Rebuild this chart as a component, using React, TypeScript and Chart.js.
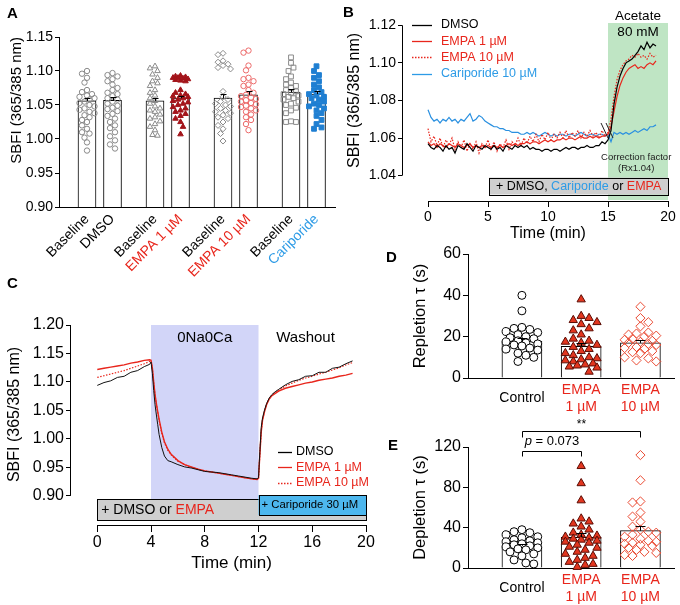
import React, { useEffect, useRef } from "react";
import { Chart, registerables } from "chart.js";

Chart.register(...registerables);

const FAMILY = "'Liberation Sans', Arial, Helvetica, sans-serif";
Chart.defaults.font.family = FAMILY;
Chart.defaults.color = "#000";

// ---------- colours ----------
const RED = "#e8261c";
const DARK_RED = "#a3141a";
const LIGHT_RED = "#ec6a6a";
const BLUE_TEXT = "#2d9be6";
const BLUE_LINE = "#2a90e0";
const BLUE_FILL = "#1f7fd2";
const GREY_PT = "#8a8a8a";
const GREEN_SHADE = "#bfe5c4";
const LAVENDER = "#d2d5f8";
const BOX_GREY = "#cfcfcf";
const CARI_BOX = "#4db7ee";
const TRI_RED = "#e2361f";
const TRI_EDGE = "#5a0c04";
const DIA_RED = "#ea4a32";

// ================= Panel A data =================
const A_LABELS = ["Baseline", "DMSO", "Baseline", "EMPA 1 µM", "Baseline", "EMPA 10 µM", "Baseline", "Cariporide"];
const A_LABEL_COLORS = ["#000", "#000", "#000", RED, "#000", RED, "#000", BLUE_TEXT];
const A_Y_TICKS = [0.9, 0.95, 1.0, 1.05, 1.1, 1.15];
const A_MEANS = [1.056, 1.057, 1.056, 1.060, 1.060, 1.065, 1.069, 1.066];
const A_SEMS = [0.004, 0.005, 0.004, 0.003, 0.006, 0.005, 0.004, 0.004];
const A_BASE_DMSO = [1.100, 1.096, 1.090, 1.083, 1.072, 1.069, 1.066, 1.064, 1.062, 1.060, 1.058, 1.055, 1.053, 1.050, 1.048, 1.045, 1.043, 1.040, 1.038, 1.035, 1.032, 1.028, 1.025, 1.020, 1.015, 1.010, 1.008, 1.002, 0.995, 0.983];
const A_DMSO = [1.097, 1.094, 1.092, 1.088, 1.085, 1.080, 1.075, 1.072, 1.068, 1.066, 1.063, 1.060, 1.058, 1.055, 1.052, 1.049, 1.046, 1.044, 1.041, 1.037, 1.034, 1.030, 1.025, 1.020, 1.016, 1.010, 1.004, 0.998, 0.992, 0.986];
const A_BASE_E1 = [1.107, 1.104, 1.100, 1.095, 1.090, 1.085, 1.082, 1.078, 1.072, 1.068, 1.064, 1.060, 1.056, 1.052, 1.048, 1.045, 1.042, 1.040, 1.036, 1.032, 1.030, 1.026, 1.022, 1.018, 1.013, 1.006, 1.005];
const A_EMPA1 = [1.093, 1.092, 1.091, 1.090, 1.090, 1.089, 1.088, 1.087, 1.086, 1.085, 1.072, 1.068, 1.066, 1.064, 1.063, 1.062, 1.060, 1.058, 1.056, 1.054, 1.052, 1.050, 1.047, 1.045, 1.042, 1.040, 1.037, 1.034, 1.030, 1.025, 1.018, 1.007];
const A_BASE_E10 = [1.126, 1.124, 1.115, 1.113, 1.110, 1.108, 1.105, 1.103, 1.070, 1.062, 1.058, 1.055, 1.052, 1.050, 1.048, 1.045, 1.042, 1.040, 1.038, 1.035, 1.032, 1.030, 1.025, 1.020, 1.015, 1.008, 0.997];
const A_EMPA10 = [1.130, 1.127, 1.108, 1.101, 1.090, 1.088, 1.085, 1.080, 1.078, 1.072, 1.068, 1.065, 1.063, 1.061, 1.059, 1.057, 1.055, 1.053, 1.051, 1.049, 1.047, 1.045, 1.042, 1.040, 1.036, 1.032, 1.028, 1.022, 1.013];
const A_BASE_CARI = [1.120, 1.112, 1.105, 1.100, 1.092, 1.088, 1.083, 1.080, 1.078, 1.075, 1.072, 1.070, 1.068, 1.066, 1.064, 1.062, 1.060, 1.058, 1.055, 1.052, 1.050, 1.046, 1.042, 1.038, 1.026, 1.025, 1.025];
const A_CARI = [1.107, 1.100, 1.094, 1.090, 1.085, 1.080, 1.076, 1.072, 1.069, 1.066, 1.064, 1.062, 1.060, 1.058, 1.055, 1.052, 1.050, 1.048, 1.045, 1.042, 1.038, 1.034, 1.028, 1.022, 1.017, 1.015];
const A_GROUPS = [A_BASE_DMSO, A_DMSO, A_BASE_E1, A_EMPA1, A_BASE_E10, A_EMPA10, A_BASE_CARI, A_CARI];

// ================= Panel B data =================
const B_T_START = 0;
const B_T_STEP = 0.25;
const B_X_TICKS = [0, 5, 10, 15, 20];
const B_Y_TICKS = [1.04, 1.06, 1.08, 1.10, 1.12];
const B_ACETATE = [15, 20];
const B_DMSO = [
  1.057, 1.055, 1.054, 1.056, 1.055, 1.053, 1.056, 1.054, 1.055, 1.052,
  1.056, 1.055, 1.054, 1.057, 1.055, 1.053, 1.056, 1.055, 1.054, 1.056,
  1.055, 1.054, 1.056, 1.054, 1.055, 1.053, 1.056, 1.055, 1.054, 1.056,
  1.055, 1.056, 1.055, 1.056, 1.054, 1.055, 1.054, 1.054, 1.053, 1.054,
  1.054, 1.053, 1.054, 1.054, 1.053, 1.054, 1.055, 1.054, 1.055, 1.055,
  1.054, 1.055, 1.055, 1.056, 1.055, 1.055, 1.056, 1.056, 1.058, 1.057,
  1.059,
  1.064, 1.078, 1.087, 1.093, 1.097, 1.100, 1.101, 1.102, 1.104, 1.106, 1.109, 1.107, 1.111, 1.108, 1.110, 1.109,
];
const B_EMPA1 = [
  1.058, 1.056, 1.057, 1.055, 1.057, 1.056, 1.055, 1.057, 1.056, 1.055,
  1.057, 1.056, 1.055, 1.056, 1.057, 1.055, 1.056, 1.055, 1.056, 1.055,
  1.056, 1.055, 1.056, 1.055, 1.056, 1.055, 1.056, 1.057, 1.056, 1.057,
  1.056, 1.057, 1.057, 1.058, 1.057, 1.058, 1.058, 1.057, 1.058, 1.059,
  1.058, 1.059, 1.058, 1.059, 1.059, 1.060, 1.059, 1.060, 1.060, 1.059,
  1.060, 1.061, 1.060, 1.060, 1.061, 1.060, 1.061, 1.060, 1.061, 1.061,
  1.062,
  1.066, 1.074, 1.082, 1.088, 1.092, 1.095, 1.097, 1.098, 1.099, 1.097, 1.098, 1.097, 1.099, 1.100, 1.099, 1.101,
];
const B_EMPA10 = [
  1.065, 1.058, 1.061, 1.056, 1.060, 1.055, 1.059, 1.056, 1.060, 1.054,
  1.058, 1.055, 1.059, 1.053, 1.057, 1.054, 1.058, 1.052, 1.057, 1.055,
  1.059, 1.054, 1.058, 1.053, 1.057, 1.055, 1.059, 1.054, 1.058, 1.056,
  1.060, 1.056, 1.060, 1.057, 1.061, 1.058, 1.062, 1.058, 1.062, 1.059,
  1.063, 1.059, 1.062, 1.060, 1.063, 1.060, 1.064, 1.060, 1.063, 1.061,
  1.064, 1.060, 1.063, 1.061, 1.064, 1.061, 1.063, 1.060, 1.064, 1.061,
  1.063,
  1.070, 1.082, 1.091, 1.096, 1.099, 1.101, 1.102, 1.104, 1.103, 1.105, 1.103, 1.104, 1.102, 1.105, 1.103, 1.104,
];
const B_CARI = [
  1.075, 1.071, 1.069, 1.070, 1.068, 1.070, 1.069, 1.071, 1.069, 1.070,
  1.068, 1.070, 1.069, 1.071, 1.073, 1.069, 1.070, 1.072, 1.071, 1.069,
  1.068, 1.067, 1.066, 1.066, 1.065, 1.065, 1.064, 1.064, 1.063, 1.063,
  1.063, 1.062, 1.062, 1.063, 1.062, 1.063, 1.062, 1.061, 1.062, 1.063,
  1.062, 1.061, 1.062, 1.061, 1.062, 1.062, 1.061, 1.062, 1.062, 1.061,
  1.062, 1.063, 1.062, 1.061, 1.062, 1.062, 1.061, 1.062, 1.062, 1.061,
  1.062,
  1.058, 1.063, 1.062, 1.063, 1.062, 1.063, 1.062, 1.063, 1.064, 1.063, 1.064, 1.065, 1.064, 1.066, 1.066, 1.067,
];

// ================= Panel C data =================
const C_X_TICKS = [0, 4, 8, 12, 16, 20];
const C_Y_TICKS = [0.9, 0.95, 1.0, 1.05, 1.1, 1.15, 1.2];
const C_ZERO_NA = [4, 12];
const C_CARI_START = 12;
const C_TIME = [
  0, 0.5, 1, 1.5, 2, 2.5, 3, 3.5, 3.9, 4.0,
  4.1, 4.2, 4.3, 4.4, 4.5, 4.6, 4.8, 5.0, 5.25, 5.5,
  6, 6.5, 7, 7.5, 8, 8.5, 9, 9.5, 10, 10.5,
  11, 11.5, 11.9, 12.0, 12.1, 12.2, 12.3, 12.45, 12.6, 12.8,
  13, 13.25, 13.5, 14, 14.5, 15, 15.5, 16, 16.5, 17,
  17.5, 18, 18.5, 19,
];
const C_DMSO = [
  1.094, 1.099, 1.102, 1.108, 1.110, 1.117, 1.120, 1.127, 1.131, 1.135,
  1.115, 1.085, 1.060, 1.042, 1.025, 1.008, 0.985, 0.970, 0.962, 0.960,
  0.955, 0.951, 0.949, 0.946, 0.943, 0.942, 0.941, 0.939, 0.937, 0.935,
  0.933, 0.931, 0.930, 0.932, 0.978, 1.020, 1.037, 1.051, 1.062, 1.072,
  1.078, 1.083, 1.087, 1.095, 1.101, 1.104, 1.110, 1.111, 1.117, 1.117,
  1.124, 1.126, 1.132, 1.137,
];
const C_EMPA1 = [
  1.122, 1.124, 1.126, 1.128, 1.130, 1.133, 1.135, 1.138, 1.139, 1.138,
  1.125, 1.100, 1.078, 1.062, 1.048, 1.035, 1.012, 0.995, 0.982, 0.973,
  0.962, 0.955, 0.951, 0.947, 0.944, 0.942, 0.940, 0.938, 0.936, 0.934,
  0.932, 0.930, 0.929, 0.931, 0.972, 1.012, 1.033, 1.048, 1.060, 1.070,
  1.076, 1.080, 1.084, 1.089, 1.092, 1.095, 1.098, 1.100, 1.103, 1.105,
  1.107, 1.110, 1.112, 1.115,
];
const C_EMPA10 = [
  1.108, 1.111, 1.114, 1.117, 1.120, 1.124, 1.128, 1.132, 1.136, 1.137,
  1.123, 1.098, 1.076, 1.060, 1.046, 1.033, 1.010, 0.993, 0.980, 0.972,
  0.961, 0.955, 0.950, 0.947, 0.944, 0.942, 0.940, 0.938, 0.936, 0.934,
  0.932, 0.930, 0.929, 0.931, 0.973, 1.013, 1.034, 1.049, 1.061, 1.071,
  1.077, 1.082, 1.086, 1.093, 1.098, 1.103, 1.107, 1.110, 1.114, 1.117,
  1.121, 1.125, 1.130, 1.134,
];

// ================= Panels D / E data =================
const TAU_LABELS = [["Control"], ["EMPA", "1 µM"], ["EMPA", "10 µM"]];
const TAU_LABEL_COLORS = ["#000", RED, RED];
const D_Y_TICKS = [0, 20, 40, 60];
const D_CONTROL = [40, 32.5, 24.5, 24, 23.5, 22.5, 22, 21, 20, 19.5, 19, 18, 17.5, 17, 16.5, 16, 15.5, 14.5, 14, 13.5, 12, 11, 10, 8];
const D_EMPA1 = [38, 30, 29, 28, 27, 26, 24, 23, 21, 19, 18, 17.5, 17, 16, 15, 14, 13, 12, 11, 10, 9.5, 9, 8.5, 8, 7, 6.5, 6, 5.5, 5, 3];
const D_EMPA10 = [34.5, 29, 27, 25, 22, 21.5, 21, 20.5, 20, 19, 18.5, 18, 17.5, 17, 16.5, 16, 15, 14.5, 14, 13, 12.5, 12, 10, 9.5, 8.5, 8];
const D_MEANS = [17.8, 15.3, 17.0];
const D_SEMS = [1.5, 1.8, 1.4];
const E_Y_TICKS = [0, 40, 80, 120];
const E_CONTROL = [38, 36, 35, 33, 31, 30, 28, 27, 26, 25, 24, 23, 22, 21, 20, 19, 18, 16, 14, 12, 8, 5, 4];
const E_EMPA1 = [101, 84, 67, 49, 46, 44, 41, 38, 35, 33, 32, 31, 30, 29, 28, 27, 26, 25, 23, 21, 20, 18, 16, 14, 12, 10, 8, 6, 4, 3, 1];
const E_EMPA10 = [112, 87, 66, 65, 55, 51, 46, 41, 38, 36, 35, 33, 31, 29, 27, 26, 25, 24, 23, 22, 20, 18, 16, 15, 13, 12];
const E_MEANS = [22, 30.5, 37];
const E_SEMS = [2.2, 4.2, 4.8];
const E_SIG_PAIRS = [[0, 2], [0, 1]];
const E_SIG_TEXT = ["**", "p = 0.073"];

// ================= helpers =================
const font = (size: number, style = "") => `${style} ${size}px ${FAMILY}`.trim();
const al = (v: number) => Math.round(v) + 0.5;

function swarm(vals: number[], yPx: number, xPx: number, d: number, maxPx: number): number[] {
  const placed: Array<[number, number]> = [];
  return vals.map((v, idx) => {
    const py = v * yPx;
    let best = 0;
    let bestScore = -1;
    const step = d * 0.5;
    const flip = idx % 2 === 0 ? 1 : -1;
    for (let k = 0; k < 200; k++) {
      const off = k === 0 ? 0 : flip * (k % 2 === 1 ? 1 : -1) * Math.ceil(k / 2) * step;
      if (Math.abs(off) > maxPx) break;
      let minD = Infinity;
      for (const [ox, oy] of placed) {
        const dd = Math.hypot(ox - off, oy - py);
        if (dd < minD) minD = dd;
      }
      if (minD >= d) { best = off; break; }
      if (minD > bestScore) { bestScore = minD; best = off; }
    }
    placed.push([best, py]);
    return best / xPx;
  });
}

function drawText(ctx: any, str: string, x: number, y: number, size: number, color = "#000", align = "center", style = "", rotate = 0) {
  ctx.save();
  ctx.translate(x, y);
  if (rotate) ctx.rotate(rotate);
  ctx.font = font(size, style);
  ctx.fillStyle = color;
  ctx.textAlign = align;
  ctx.textBaseline = "middle";
  ctx.fillText(str, 0, 0);
  ctx.restore();
}

function drawRich(ctx: any, parts: Array<[string, string, string?]>, x: number, y: number, size: number, align = "center") {
  ctx.save();
  ctx.textBaseline = "middle";
  ctx.textAlign = "left";
  let total = 0;
  for (const [t, , st] of parts) { ctx.font = font(size, st || ""); total += ctx.measureText(t).width; }
  let cx = align === "center" ? x - total / 2 : x;
  for (const [t, c, st] of parts) {
    ctx.font = font(size, st || "");
    ctx.fillStyle = c;
    ctx.fillText(t, cx, y);
    cx += ctx.measureText(t).width;
  }
  ctx.restore();
}

function drawLegend(ctx: any, items: Array<[string, string, number[]]>, x0: number, y0: number, dy: number, len: number, gap: number, size: number, lw: number) {
  items.forEach(([label, color, dash], i) => {
    const y = y0 + i * dy;
    ctx.save();
    ctx.strokeStyle = label === "DMSO" ? "#000" : color;
    ctx.lineWidth = lw;
    ctx.setLineDash(dash);
    ctx.beginPath();
    ctx.moveTo(x0, al(y));
    ctx.lineTo(x0 + len, al(y));
    ctx.stroke();
    ctx.restore();
    drawText(ctx, label, x0 + len + gap, y, size, color, "left");
  });
}

function errBars(xs: number[], means: number[], sems: number[], cap: number) {
  return {
    id: "errbars",
    afterDatasetsDraw(chart: any) {
      const { ctx, scales: { x, y } } = chart;
      ctx.save();
      ctx.strokeStyle = "#000";
      ctx.lineWidth = 1;
      xs.forEach((xv, i) => {
        const px = al(x.getPixelForValue(xv));
        const y0 = y.getPixelForValue(means[i]);
        const y1 = al(y.getPixelForValue(means[i] + sems[i]));
        ctx.beginPath();
        ctx.moveTo(px, y0);
        ctx.lineTo(px, y1);
        ctx.moveTo(px - cap, y1);
        ctx.lineTo(px + cap, y1);
        ctx.stroke();
      });
      ctx.restore();
    },
  };
}

function axisLines(chart: any, xr: number[], yr: number[]) {
  const { ctx, chartArea: ca, scales: { x, y } } = chart;
  ctx.save();
  ctx.strokeStyle = "#000";
  ctx.lineWidth = 1;
  ctx.beginPath();
  ctx.moveTo(al(ca.left), y.getPixelForValue(yr[0]));
  ctx.lineTo(al(ca.left), y.getPixelForValue(yr[1]));
  ctx.moveTo(x.getPixelForValue(xr[0]), al(ca.bottom));
  ctx.lineTo(x.getPixelForValue(xr[1]), al(ca.bottom));
  ctx.stroke();
  ctx.restore();
}

const ticksFrom = (vals: number[]) => (s: any) => { s.ticks = vals.map((v) => ({ value: v })); };
const baseOpts = { responsive: false, animation: false, devicePixelRatio: 1 };
const noPlug = { legend: { display: false }, tooltip: { enabled: false } };

// ================= Panel A =================
const A_GROUP_STEP = 2.72;
const A_PAIR_STEP = 1.02;
const aPos = (i: number) => Math.floor(i / 2) * A_GROUP_STEP + (i % 2) * A_PAIR_STEP;
const A_STYLES = [
  { shape: "circle", r: 2.7, fill: "rgba(0,0,0,0)", stroke: GREY_PT },
  { shape: "circle", r: 2.7, fill: "rgba(0,0,0,0)", stroke: GREY_PT },
  { shape: "triangle", r: 3.2, fill: "rgba(0,0,0,0)", stroke: GREY_PT },
  { shape: "triangle", r: 3.2, fill: DARK_RED, stroke: DARK_RED },
  { shape: "rectRot", r: 3.0, fill: "rgba(0,0,0,0)", stroke: GREY_PT },
  { shape: "circle", r: 2.7, fill: "rgba(0,0,0,0)", stroke: LIGHT_RED },
  { shape: "rect", r: 3.4, fill: "rgba(0,0,0,0)", stroke: GREY_PT },
  { shape: "rect", r: 3.4, fill: BLUE_FILL, stroke: BLUE_FILL },
];

function makeA() {
  const datasets: any[] = [
    {
      type: "bar",
      data: A_MEANS.map((m, i) => ({ x: aPos(i), y: m })),
      backgroundColor: "#fff",
      borderColor: "#000",
      borderWidth: 1,
      barThickness: 18,
      order: 10,
    },
  ];
  A_GROUPS.forEach((vals, g) => {
    const jit = swarm(vals, 680, 25, 5, 7.5);
    const st = A_STYLES[g];
    datasets.push({
      type: "scatter",
      data: vals.map((v, i) => ({ x: aPos(g) + jit[i], y: v })),
      order: 0,
      clip: false,
      pointStyle: st.shape,
      pointRadius: st.r,
      pointBackgroundColor: st.fill,
      pointBorderColor: st.stroke,
      pointBorderWidth: 1,
    });
  });
  return {
    type: "bar",
    data: { datasets },
    options: {
      ...baseOpts,
      layout: { padding: { left: 0, top: 37, right: 5, bottom: 0 } },
      plugins: noPlug,
      scales: {
        x: {
          type: "linear", min: -1.12, max: 9.92, offset: false,
          grid: { display: false, drawTicks: false, tickLength: 0, offset: false },
          border: { color: "#000", width: 1 },
          afterBuildTicks: (s: any) => { s.ticks = A_LABELS.map((_, i) => ({ value: aPos(i) })); },
          afterFit: (s: any) => { s.height = 93; },
          ticks: {
            autoSkip: false, maxRotation: 45, minRotation: 45, padding: 4,
            font: { size: 14 },
            color: (c: any) => A_LABEL_COLORS[c.index],
            callback: (_v: any, i: number) => A_LABELS[i],
          },
        },
        y: {
          min: 0.9, max: 1.15,
          afterBuildTicks: ticksFrom(A_Y_TICKS),
          afterFit: (s: any) => { s.width = 59; },
          grid: { drawOnChartArea: false, tickLength: 4, color: "#000", tickColor: "#000" },
          border: { color: "#000", width: 1 },
          ticks: { padding: 2, font: { size: 14 }, callback: (v: number) => Number(v).toFixed(2) },
          title: { display: true, text: "SBFI (365/385 nm)", align: "end", font: { size: 15 }, padding: { top: 8, bottom: 0 } },
        },
      },
    },
    plugins: [errBars(A_MEANS.map((_, i) => aPos(i)), A_MEANS, A_SEMS, 3)],
  };
}

// ================= Panel B =================
function makeB() {
  const pts = (arr: number[]) => arr.map((v, i) => ({ x: B_T_START + i * B_T_STEP, y: v }));
  const plugin = {
    id: "panelB",
    beforeDatasetsDraw(chart: any) {
      const { ctx, chartArea: ca, scales: { x } } = chart;
      const x0 = x.getPixelForValue(B_ACETATE[0]);
      const x1 = x.getPixelForValue(B_ACETATE[1]);
      ctx.save();
      ctx.fillStyle = GREEN_SHADE;
      ctx.fillRect(x0, ca.top, x1 - x0, ca.bottom - ca.top - 1);
      ctx.restore();
    },
    afterDatasetsDraw(chart: any) {
      const { ctx, chartArea: ca, scales: { x, y } } = chart;
      const x0 = x.getPixelForValue(B_ACETATE[0]);
      const x1 = x.getPixelForValue(B_ACETATE[1]);
      // break marks at the correction point
      ctx.save();
      ctx.strokeStyle = "#222";
      ctx.lineWidth = 1;
      const yb0 = y.getPixelForValue(1.068);
      const yb1 = y.getPixelForValue(1.060);
      [-3, 2].forEach((dx) => {
        ctx.beginPath();
        ctx.moveTo(x0 + dx - 4, yb0);
        ctx.lineTo(x0 + dx + 3, yb1);
        ctx.stroke();
      });
      ctx.restore();
      axisLines(chart, [B_X_TICKS[0], B_X_TICKS[B_X_TICKS.length - 1]], [B_Y_TICKS[0], B_Y_TICKS[B_Y_TICKS.length - 1]]);
      // grey treatment box
      const bx0 = x.getPixelForValue(5.1);
      const bx1 = x.getPixelForValue(20);
      const by0 = ca.bottom - 23.5;
      const by1 = ca.bottom - 6.5;
      ctx.save();
      ctx.fillStyle = BOX_GREY;
      ctx.fillRect(bx0, by0, bx1 - bx0, by1 - by0);
      ctx.strokeStyle = "#000";
      ctx.lineWidth = 1;
      ctx.strokeRect(al(bx0), al(by0), Math.round(bx1 - bx0), Math.round(by1 - by0));
      ctx.restore();
      drawRich(ctx, [["+ DMSO, ", "#000"], ["Cariporide", BLUE_TEXT], [" or ", "#000"], ["EMPA", RED]], (bx0 + bx1) / 2, (by0 + by1) / 2 + 0.5, 12.5);
      // annotations
      drawText(ctx, "Acetate", (x0 + x1) / 2, ca.top - 7, 13.5);
      drawText(ctx, "80 mM", (x0 + x1) / 2, ca.top + 9, 13.5);
      drawText(ctx, "Correction factor", x.getPixelForValue(17.35), ca.bottom - 44, 9.5, "#222");
      drawText(ctx, "(Rx1.04)", x.getPixelForValue(17.35), ca.bottom - 33, 9.5, "#222");
      drawLegend(ctx, [
        ["DMSO", "#000", []],
        ["EMPA 1 µM", RED, []],
        ["EMPA 10 µM", RED, [1.5, 1.5]],
        ["Cariporide 10 µM", BLUE_TEXT, []],
      ], ca.left + 10, ca.top + 2, 16.2, 20, 9, 12.5, 1.3);
      // axis titles
      const yMid = (y.getPixelForValue(B_Y_TICKS[0]) + y.getPixelForValue(B_Y_TICKS[B_Y_TICKS.length - 1])) / 2;
      drawText(ctx, "SBFI (365/385 nm)", 15, yMid, 16, "#000", "center", "", -Math.PI / 2);
      const xMid = (x.getPixelForValue(B_X_TICKS[0]) + x.getPixelForValue(B_X_TICKS[B_X_TICKS.length - 1])) / 2;
      drawText(ctx, "Time (min)", xMid, ca.bottom + 33, 16);
    },
  };
  return {
    type: "line",
    data: {
      datasets: [
        { data: pts(B_DMSO), borderColor: "#000", borderWidth: 1.2, order: 0 },
        { data: pts(B_EMPA1), borderColor: RED, borderWidth: 1.2, order: 1 },
        { data: pts(B_EMPA10), borderColor: RED, borderWidth: 1.2, borderDash: [1.5, 1.5], order: 2 },
        { data: pts(B_CARI), borderColor: BLUE_LINE, borderWidth: 1.2, order: 3 },
      ],
    },
    options: {
      ...baseOpts,
      elements: { point: { radius: 0 }, line: { tension: 0 } },
      layout: { padding: { left: 0, top: 23, right: 12, bottom: 0 } },
      plugins: noPlug,
      scales: {
        x: {
          type: "linear", min: -2.167, max: 20,
          afterBuildTicks: ticksFrom(B_X_TICKS),
          afterFit: (s: any) => { s.height = 49; },
          grid: { drawOnChartArea: false, tickLength: 6, color: "#000", tickColor: "#000" },
          border: { display: false },
          ticks: { padding: 2, font: { size: 14 }, autoSkip: false, maxRotation: 0 },
        },
        y: {
          min: 1.0265, max: 1.1212,
          afterBuildTicks: ticksFrom(B_Y_TICKS),
          afterFit: (s: any) => { s.width = 62; },
          grid: { drawOnChartArea: false, tickLength: 4, color: "#000", tickColor: "#000" },
          border: { display: false },
          ticks: { padding: 2, font: { size: 14 }, callback: (v: number) => Number(v).toFixed(2) },
        },
      },
    },
    plugins: [plugin],
  };
}

// ================= Panel C =================
function makeC() {
  const pts = (arr: number[]) => arr.map((v, i) => ({ x: C_TIME[i], y: v }));
  const plugin = {
    id: "panelC",
    beforeDatasetsDraw(chart: any) {
      const { ctx, chartArea: ca, scales: { x } } = chart;
      const x0 = x.getPixelForValue(C_ZERO_NA[0]);
      const x1 = x.getPixelForValue(C_ZERO_NA[1]);
      ctx.save();
      ctx.fillStyle = LAVENDER;
      ctx.fillRect(x0, ca.top, x1 - x0, ca.bottom - 25.7 - ca.top);
      ctx.restore();
    },
    afterDatasetsDraw(chart: any) {
      const { ctx, chartArea: ca, scales: { x, y } } = chart;
      axisLines(chart, [C_X_TICKS[0], C_X_TICKS[C_X_TICKS.length - 1]], [C_Y_TICKS[0], C_Y_TICKS[C_Y_TICKS.length - 1]]);
      const gx0 = x.getPixelForValue(C_X_TICKS[0]);
      const gx1 = x.getPixelForValue(C_X_TICKS[C_X_TICKS.length - 1]);
      const cx0 = x.getPixelForValue(C_CARI_START);
      ctx.save();
      ctx.lineWidth = 1;
      ctx.strokeStyle = "#000";
      // grey DMSO/EMPA bar
      ctx.fillStyle = BOX_GREY;
      ctx.fillRect(gx0, ca.bottom - 25.7, gx1 - gx0, 20.7);
      ctx.strokeRect(al(gx0), al(ca.bottom - 25.7), Math.round(gx1 - gx0), 21);
      // cariporide bar
      ctx.fillStyle = CARI_BOX;
      ctx.fillRect(cx0, ca.bottom - 30, gx1 - cx0, 20);
      ctx.strokeRect(al(cx0), al(ca.bottom - 30), Math.round(gx1 - cx0), 20);
      ctx.restore();
      drawRich(ctx, [["+ DMSO or ", "#000"], ["EMPA", RED]], gx0 + 4, ca.bottom - 14.5, 14, "left");
      drawText(ctx, "+ Cariporide 30 µM", cx0 + 3, ca.bottom - 20, 11.3, "#000", "left");
      drawText(ctx, "0Na0Ca", (x.getPixelForValue(C_ZERO_NA[0]) + x.getPixelForValue(C_ZERO_NA[1])) / 2, ca.top + 13, 15);
      drawText(ctx, "Washout", x.getPixelForValue(15.5), ca.top + 13, 15);
      drawLegend(ctx, [
        ["DMSO", "#000", []],
        ["EMPA 1 µM", RED, []],
        ["EMPA 10 µM", RED, [1.5, 1.5]],
      ], ca.right - 88, ca.bottom - 73.3, 15.5, 14, 4, 12.5, 1.3);
      const yMid = (y.getPixelForValue(C_Y_TICKS[0]) + y.getPixelForValue(C_Y_TICKS[C_Y_TICKS.length - 1])) / 2;
      drawText(ctx, "SBFI (365/385 nm)", 15, yMid + 4, 16, "#000", "center", "", -Math.PI / 2);
      drawText(ctx, "Time (min)", (gx0 + gx1) / 2, ca.bottom + 38, 17);
    },
  };
  return {
    type: "line",
    data: {
      datasets: [
        { data: pts(C_DMSO), borderColor: "#111", borderWidth: 1, order: 0 },
        { data: pts(C_EMPA1), borderColor: RED, borderWidth: 1.4, order: 1 },
        { data: pts(C_EMPA10), borderColor: RED, borderWidth: 1.2, borderDash: [1.5, 1.5], order: 2 },
      ],
    },
    options: {
      ...baseOpts,
      elements: { point: { radius: 0 }, line: { tension: 0 } },
      layout: { padding: { left: 0, top: 25, right: 14, bottom: 0 } },
      plugins: noPlug,
      scales: {
        x: {
          type: "linear", min: -2.03, max: 20,
          afterBuildTicks: ticksFrom(C_X_TICKS),
          afterFit: (s: any) => { s.height = 65; },
          grid: { drawOnChartArea: false, tickLength: 7, color: "#000", tickColor: "#000" },
          border: { display: false },
          ticks: { padding: 1, font: { size: 16 }, autoSkip: false, maxRotation: 0 },
        },
        y: {
          min: 0.849, max: 1.2,
          afterBuildTicks: ticksFrom(C_Y_TICKS),
          afterFit: (s: any) => { s.width = 70; },
          grid: { drawOnChartArea: false, tickLength: 4, color: "#000", tickColor: "#000" },
          border: { display: false },
          ticks: { padding: 2, font: { size: 16 }, callback: (v: number) => Number(v).toFixed(2) },
        },
      },
    },
    plugins: [plugin],
  };
}

// ================= Panels D / E =================
const TAU_STYLES = [
  { shape: "circle", r: 4, fill: "#fff", stroke: "#000" },
  { shape: "triangle", r: 4.8, fill: TRI_RED, stroke: TRI_EDGE },
  { shape: "rectRot", r: 4.6, fill: "rgba(255,255,255,0)", stroke: DIA_RED },
];

function makeTau(groups: number[][], means: number[], sems: number[], yTicks: number[], yPx: number, title: string, padTop: number, xAxisH: number, extra: any[]) {
  const datasets: any[] = [
    {
      type: "bar",
      data: means.map((m, i) => ({ x: i, y: m })),
      backgroundColor: "#fff",
      borderColor: "#000",
      borderWidth: 1,
      barThickness: 40,
      order: 10,
    },
  ];
  groups.forEach((vals, g) => {
    const jit = swarm(vals, yPx, 60, 8, 16);
    const st = TAU_STYLES[g];
    datasets.push({
      type: "scatter",
      data: vals.map((v, i) => ({ x: g + jit[i], y: v })),
      order: 0,
      clip: false,
      pointStyle: st.shape,
      pointRadius: st.r,
      pointBackgroundColor: st.fill,
      pointBorderColor: st.stroke,
      pointBorderWidth: 1,
    });
  });
  return {
    type: "bar",
    data: { datasets },
    options: {
      ...baseOpts,
      layout: { padding: { left: 0, top: padTop, right: 3, bottom: 0 } },
      plugins: noPlug,
      scales: {
        x: {
          type: "linear", min: -0.91, max: 2.57, offset: false,
          grid: { display: false, offset: false },
          border: { color: "#000", width: 1 },
          afterBuildTicks: (s: any) => { s.ticks = TAU_LABELS.map((_, i) => ({ value: i })); },
          afterFit: (s: any) => { s.height = xAxisH; },
          ticks: {
            autoSkip: false, maxRotation: 0, minRotation: 0, padding: 4, crossAlign: "center",
            font: { size: 14 },
            color: (c: any) => TAU_LABEL_COLORS[c.index],
            callback: (_v: any, i: number) => TAU_LABELS[i],
          },
        },
        y: {
          min: yTicks[0], max: yTicks[yTicks.length - 1],
          afterBuildTicks: ticksFrom(yTicks),
          afterFit: (s: any) => { s.width = 88; },
          grid: { drawOnChartArea: false, tickLength: 5, color: "#000", tickColor: "#000" },
          border: { color: "#000", width: 1 },
          ticks: { padding: 2, font: { size: 16 } },
          title: { display: true, text: title, font: { size: 16.5 }, padding: { top: 31, bottom: 0 } },
        },
      },
    },
    plugins: [errBars([0, 1, 2], means, sems, 5), ...extra],
  };
}

const E_SIG_LEVELS = [136, 116];
const E_SIG_DROP = [6, 5];
const sigPlugin = {
  id: "sig",
  afterDraw(chart: any) {
    const { ctx, scales: { x, y } } = chart;
    E_SIG_PAIRS.forEach(([a, b], i) => {
      const xa = al(x.getPixelForValue(a));
      const xb = al(x.getPixelForValue(b));
      const yy = al(y.getPixelForValue(E_SIG_LEVELS[i]));
      ctx.save();
      ctx.strokeStyle = "#000";
      ctx.lineWidth = 1;
      ctx.beginPath();
      ctx.moveTo(xa, yy + E_SIG_DROP[i]);
      ctx.lineTo(xa, yy);
      ctx.lineTo(xb, yy);
      ctx.lineTo(xb, yy + E_SIG_DROP[i]);
      ctx.stroke();
      ctx.restore();
      const label = E_SIG_TEXT[i];
      if (label.startsWith("p ")) {
        drawRich(ctx, [["p", "#000", "italic"], [label.slice(1), "#000"]], (xa + xb) / 2, yy - 10, 13);
      } else {
        drawText(ctx, label, (xa + xb) / 2, yy - 7, 12);
      }
    });
  },
};

const makeD = () => makeTau([D_CONTROL, D_EMPA1, D_EMPA10], D_MEANS, D_SEMS, D_Y_TICKS, 2.067, "Repletion τ (s)", 14, 47, []);
const makeE = () => makeTau([E_CONTROL, E_EMPA1, E_EMPA10], E_MEANS, E_SEMS, E_Y_TICKS, 1.008, "Depletion τ (s)", 32, 37, [sigPlugin]);

// ================= components =================
function ChartBox({ x, y, w, h, make }: { x: number; y: number; w: number; h: number; make: () => any }) {
  const ref = useRef<HTMLCanvasElement>(null);
  useEffect(() => {
    const chart = new Chart(ref.current as HTMLCanvasElement, make());
    return () => chart.destroy();
  }, []);
  return (
    <div style={{ position: "absolute", left: x, top: y, width: w, height: h }}>
      <canvas ref={ref} width={w} height={h} style={{ width: w, height: h, display: "block" }} />
    </div>
  );
}

const LETTERS: Array<[string, number, number]> = [
  ["A", 7, 4],
  ["B", 343, 3],
  ["C", 7, 274],
  ["D", 386, 248],
  ["E", 388, 436],
];

export default function App() {
  return (
    <div style={{ position: "absolute", left: 0, top: 0, width: 680, height: 605, background: "#fff", overflow: "hidden" }}>
      <ChartBox x={0} y={0} w={340} h={300} make={makeA} />
      <ChartBox x={340} y={0} w={340} h={250} make={makeB} />
      <ChartBox x={0} y={300} w={380} h={290} make={makeC} />
      <ChartBox x={380} y={240} w={300} h={185} make={makeD} />
      <ChartBox x={380} y={415} w={300} h={190} make={makeE} />
      {LETTERS.map(([t, x, y]) => (
        <div key={t} style={{ position: "absolute", left: x, top: y, fontFamily: FAMILY, fontWeight: "bold", fontSize: 15, lineHeight: "17px" }}>{t}</div>
      ))}
    </div>
  );
}
